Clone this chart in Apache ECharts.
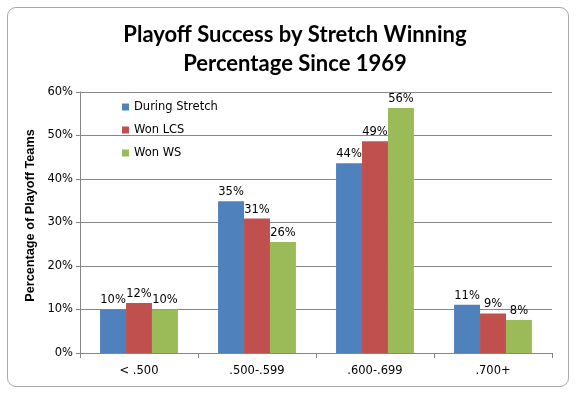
<!DOCTYPE html>
<html>
<head>
<meta charset="utf-8">
<script src="https://cdn.jsdelivr.net/npm/echarts@6/dist/echarts.min.js"></script>
<style>
    html, body { margin: 0; padding: 0; background: #fff; }
    #frame {
        position: absolute; left: 7px; top: 7px; width: 560px; height: 378px;
        border: 1px solid #a8a8a8; border-radius: 9px; background: #fff;
    }
    #chart { position: absolute; left: 0; top: 0; width: 576px; height: 396px; }
</style>
</head>
<body>
<div id="frame"></div>
<div id="chart"></div>
<script>
// --- Data ---
const categories = ['< .500', '.500-.599', '.600-.699', '.700+'];
const duringStretch = [10.0, 34.9, 43.6, 11.1];
const wonLCS = [11.5, 30.9, 48.7, 9.1];
const wonWS = [10.0, 25.5, 56.3, 7.6];
const yTicks = [0, 10, 20, 30, 40, 50, 60];

const labelFont = 'DejaVu Sans, Verdana, sans-serif';

function barSeries(name, data, color) {
    return {
        name: name,
        type: 'bar',
        data: data,
        barGap: '0%',
        barCategoryGap: '34%',
        itemStyle: { color: color },
        label: {
            show: true,
            position: 'top',
            distance: 3,
            color: '#000',
            fontSize: 11.5,
            fontFamily: labelFont,
            formatter: p => Math.round(p.value) + '%'
        }
    };
}

const chart = echarts.init(document.getElementById('chart'));
chart.setOption({
    animation: false,
    title: {
        text: 'Playoff Success by Stretch Winning\nPercentage Since 1969',
        left: 290,
        top: 16,
        textAlign: 'center',
        textStyle: {
            fontFamily: 'Lato, Calibri, sans-serif',
            fontWeight: 'bold',
            fontSize: 22,
            lineHeight: 28.5,
            color: '#000'
        }
    },
    legend: {
        orient: 'vertical',
        left: 117,
        top: 96,
        itemWidth: 7,
        itemHeight: 7,
        itemGap: 11,
        icon: 'rect',
        textStyle: { fontFamily: labelFont, fontSize: 11.5, color: '#000' }
    },
    grid: { left: 80, right: 24, top: 92, bottom: 43 },
    xAxis: {
        type: 'category',
        data: categories,
        axisLine: { lineStyle: { color: '#868686' } },
        axisTick: { show: true, length: 5, lineStyle: { color: '#868686' } },
        axisLabel: { color: '#000', fontFamily: labelFont, fontSize: 11.5, margin: 12 }
    },
    yAxis: {
        type: 'value',
        min: yTicks[0],
        max: yTicks[yTicks.length - 1],
        interval: 10,
        name: 'Percentage of Playoff Teams',
        nameLocation: 'middle',
        nameGap: 41,
        nameTextStyle: {
            fontFamily: 'Liberation Sans, Arial, sans-serif', fontWeight: 'bold', fontSize: 12.7, color: '#000',
            padding: [0, 0, 0, 14]
        },
        axisLine: { show: true, lineStyle: { color: '#868686' } },
        axisTick: { show: true, length: 4, lineStyle: { color: '#868686' } },
        splitLine: { lineStyle: { color: '#868686' } },
        axisLabel: { color: '#000', fontFamily: labelFont, fontSize: 11.5, margin: 7, formatter: '{value}%' }
    },
    series: [
        barSeries('During Stretch', duringStretch, '#4f81bd'),
        barSeries('Won LCS', wonLCS, '#c0504d'),
        barSeries('Won WS', wonWS, '#9bbb59')
    ]
});
</script>
</body>
</html>
